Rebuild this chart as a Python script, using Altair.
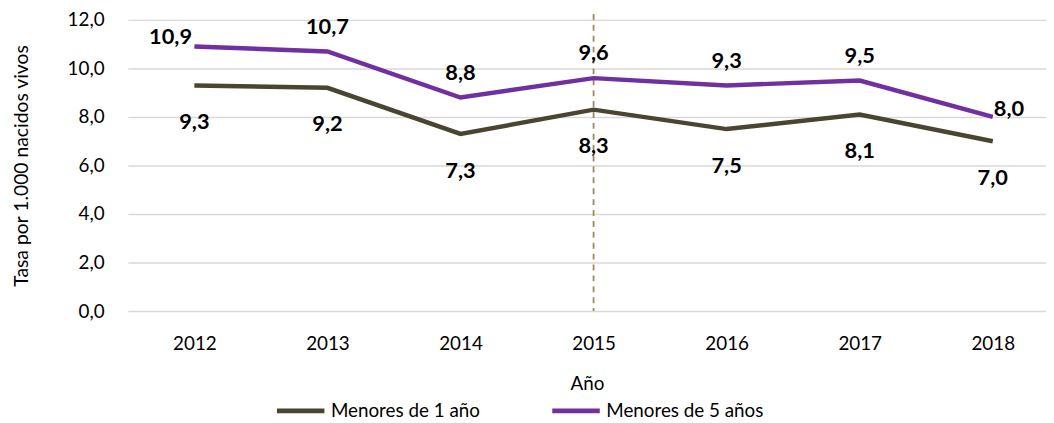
import altair as alt
import pandas as pd

years = [2012, 2013, 2014, 2015, 2016, 2017, 2018]
menores_1 = [9.3, 9.2, 7.3, 8.3, 7.5, 8.1, 7.0]
menores_5 = [10.9, 10.7, 8.8, 9.6, 9.3, 9.5, 8.0]
series_names = ["Menores de 1 año", "Menores de 5 años"]
series_colors = ["#4a4530", "#7030a0"]
marker_year = [2015]

rows = []
for y, a, b in zip(years, menores_1, menores_5):
    rows.append({"Año": y, "Serie": series_names[0], "Tasa": a})
    rows.append({"Año": y, "Serie": series_names[1], "Tasa": b})
df = pd.DataFrame(rows)

FONT = "Lato"

x_scale = alt.Scale(domain=[2011.5, 2018.4], nice=False, zero=False)
x_enc = alt.X("Año:Q", scale=x_scale,
              axis=alt.Axis(title="Año", values=years, format="d", labelAngle=0,
                            ticks=False, domain=False, grid=False,
                            labelPadding=24, titlePadding=21, labelFlush=False,
                            labelFontSize=19, titleFontSize=19,
                            labelColor="#000000", titleColor="#000000",
                            titleFontWeight="normal"))
y_enc = alt.Y("Tasa:Q", scale=alt.Scale(domain=[0, 12]),
              axis=alt.Axis(title="Tasa por 1.000 nacidos vivos", values=[0, 2, 4, 6, 8, 10, 12],
                            labelExpr="replace(format(datum.value, '.1f'), '.', ',')",
                            ticks=False, domain=False, gridColor="#d9d9d9", gridWidth=1.5,
                            labelPadding=24, titlePadding=36,
                            labelFontSize=19, titleFontSize=19.5,
                            labelColor="#000000", titleColor="#000000",
                            titleFontWeight="normal"))

base = alt.Chart(df).encode(x=x_enc)

color_enc = alt.Color("Serie:N", scale=alt.Scale(domain=series_names, range=series_colors),
                      legend=alt.Legend(title=None, orient="none", direction="horizontal",
                                        legendX=148, legendY=368,
                                        symbolType="stroke", symbolSize=2300,
                                        symbolStrokeWidth=5, labelFontSize=19,
                                        labelColor="#000000", columnPadding=62,
                                        labelOffset=4, labelLimit=300))

lines = base.mark_line(strokeWidth=4.5, strokeJoin="miter").encode(
    y=y_enc, color=color_enc, detail="Serie:N")

rule = alt.Chart(pd.DataFrame({"Año": marker_year})).mark_rule(
    color="#9c8a5a", strokeWidth=1.8, strokeDash=[6, 5]).encode(
    x=alt.X("Año:Q", scale=x_scale), y=alt.value(-6), y2=alt.value(294))

lab = base.transform_calculate(
    lbl="replace(format(datum.Tasa, '.1f'), '.', ',')")
text_style = dict(font=FONT, fontSize=22, fontWeight="bold", color="#000000")

t1 = lab.transform_filter(alt.datum.Serie == series_names[0]).mark_text(
    dy=37, **text_style).encode(y="Tasa:Q", text="lbl:N")
t5_mid = lab.transform_filter(
    (alt.datum.Serie == series_names[1]) & (alt.datum["Año"] != 2018) & (alt.datum["Año"] != 2012)
).mark_text(dy=-25, **text_style).encode(y="Tasa:Q", text="lbl:N")
t5_first = lab.transform_filter(
    (alt.datum.Serie == series_names[1]) & (alt.datum["Año"] == 2012)
).mark_text(dy=-10, dx=-24, **text_style).encode(y="Tasa:Q", text="lbl:N")
t5_last = lab.transform_filter(
    (alt.datum.Serie == series_names[1]) & (alt.datum["Año"] == 2018)
).mark_text(dx=1, dy=-8, align="left", **text_style).encode(y="Tasa:Q", text="lbl:N")

chart = alt.layer(rule, lines, t1, t5_mid, t5_first, t5_last).properties(
    width=927, height=294,
    padding={"left": 3, "right": 0, "top": 1, "bottom": 0},
).configure(font=FONT).configure_view(stroke=None)

chart.save("out.html", embed_options={"renderer": "svg", "actions": False})
